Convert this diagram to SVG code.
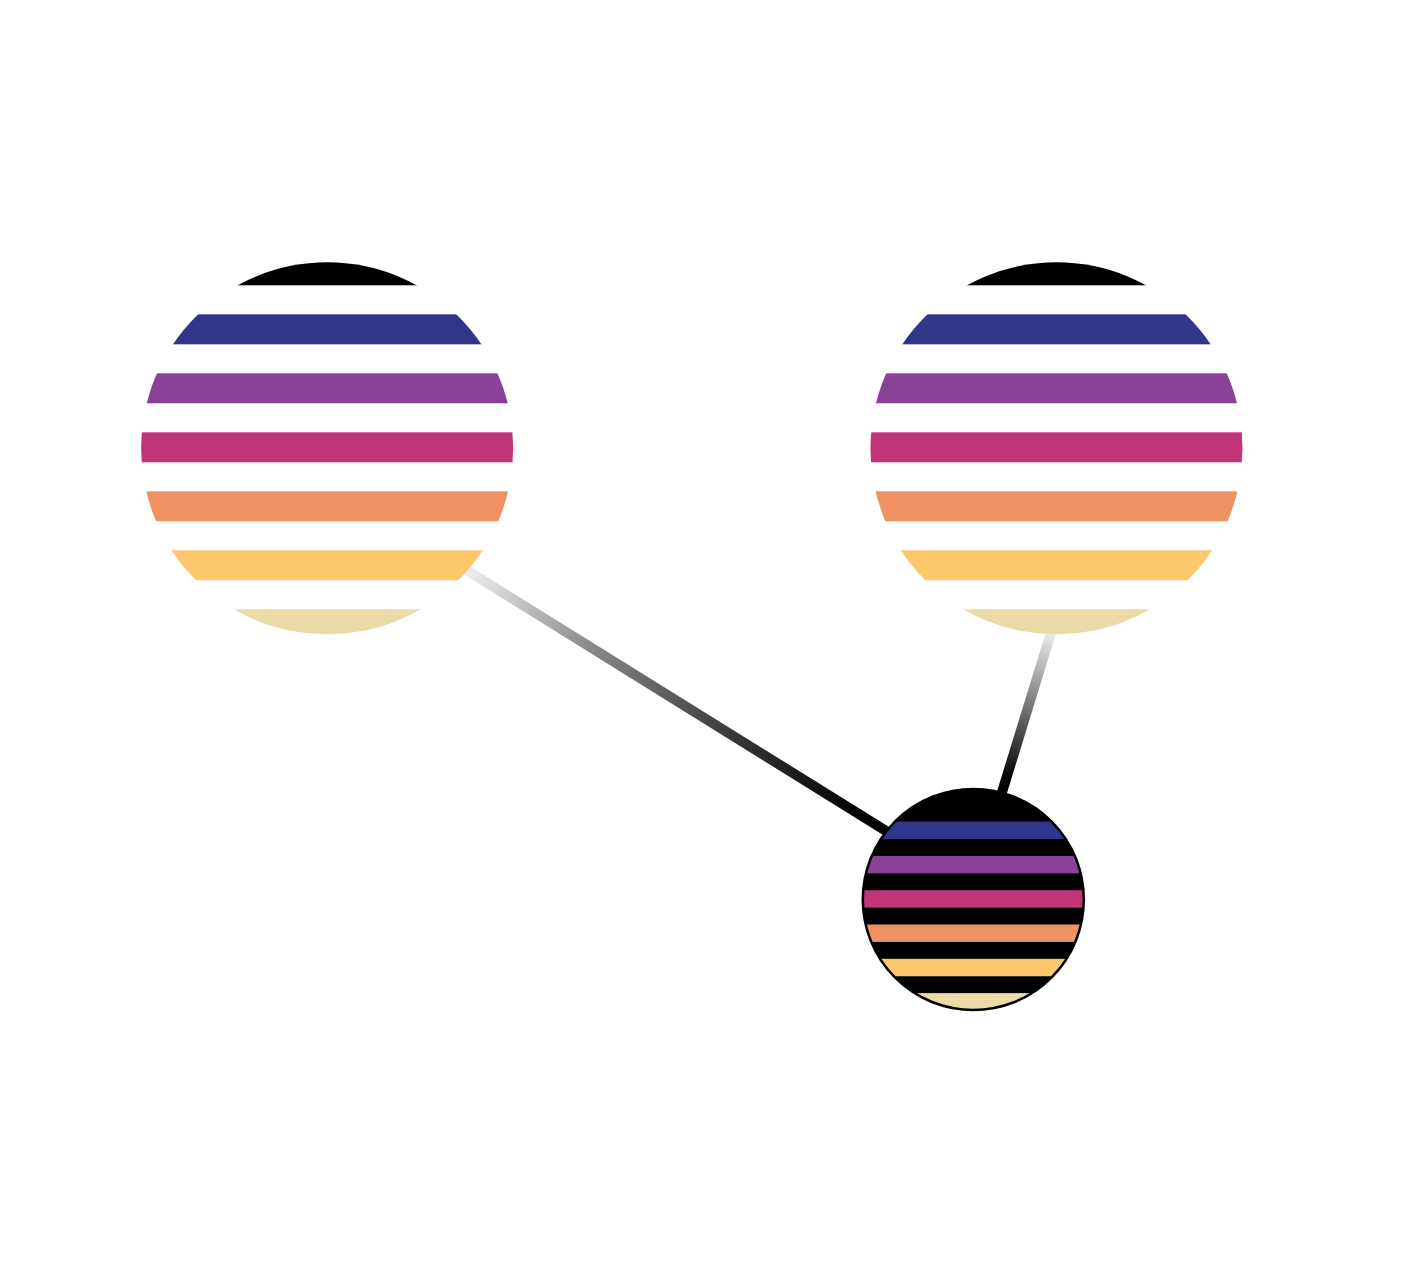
<svg xmlns="http://www.w3.org/2000/svg" xmlns:xlink="http://www.w3.org/1999/xlink" width="1408" height="1275" viewBox="0 0 1408 1275">
<style>
.edge{fill:none;stroke-width:10;stroke-linecap:butt}
</style>
<defs>
<g id="bands">
<rect x="-200" y="-193" width="400" height="30" fill="#000000"/>
<rect x="-200" y="-134" width="400" height="30" fill="#31368a"/>
<rect x="-200" y="-75" width="400" height="30" fill="#8a4298"/>
<rect x="-200" y="-16" width="400" height="30" fill="#c03577"/>
<rect x="-200" y="43" width="400" height="30" fill="#ee9263"/>
<rect x="-200" y="102" width="400" height="30" fill="#fcc86b"/>
<rect x="-200" y="161" width="400" height="30" fill="#eadaa5"/>
</g>
<clipPath id="clipA"><circle cx="327.2" cy="448.3" r="186"/></clipPath>
<clipPath id="clipB"><circle cx="1056.5" cy="448.3" r="186"/></clipPath>
<clipPath id="clipC"><circle cx="973.3" cy="899.5" r="110.5"/></clipPath>
<linearGradient id="g1" gradientUnits="userSpaceOnUse" x1="466" y1="570" x2="890" y2="832">
<stop offset="0" stop-color="#f0f0f0"/>
<stop offset="0.292" stop-color="#8a8a8a"/>
<stop offset="0.623" stop-color="#3a3a3a"/>
<stop offset="0.93" stop-color="#000000"/>
</linearGradient>
<linearGradient id="g2" gradientUnits="userSpaceOnUse" x1="1051" y1="634" x2="1006" y2="780">
<stop offset="0" stop-color="#ececec"/>
<stop offset="1" stop-color="#000000"/>
</linearGradient>
</defs>
<rect width="1408" height="1275" fill="#ffffff"/>
<g id="connectors">
<line class="edge" x1="460" y1="566" x2="973" y2="885" stroke="url(#g1)"/>
<line class="edge" x1="1053" y1="626" x2="972" y2="890" stroke="url(#g2)"/>
</g>
<g id="node-left">
<g clip-path="url(#clipA)">
<circle cx="327.2" cy="448.3" r="186" fill="#ffffff"/>
<use xlink:href="#bands" transform="translate(327.2,448.3)"/>
</g>
</g>
<g id="node-right">
<g clip-path="url(#clipB)">
<circle cx="1056.5" cy="448.3" r="186" fill="#ffffff"/>
<use xlink:href="#bands" transform="translate(1056.5,448.3)"/>
</g>
</g>
<g id="node-bottom">
<g clip-path="url(#clipC)">
<circle cx="973.3" cy="899.5" r="110.5" fill="#000000"/>
<use xlink:href="#bands" transform="translate(973.3,899.5) scale(0.5815)"/>
</g>
<circle cx="973.3" cy="899.5" r="110.5" fill="none" stroke="#000000" stroke-width="2.5"/>
</g>
</svg>
